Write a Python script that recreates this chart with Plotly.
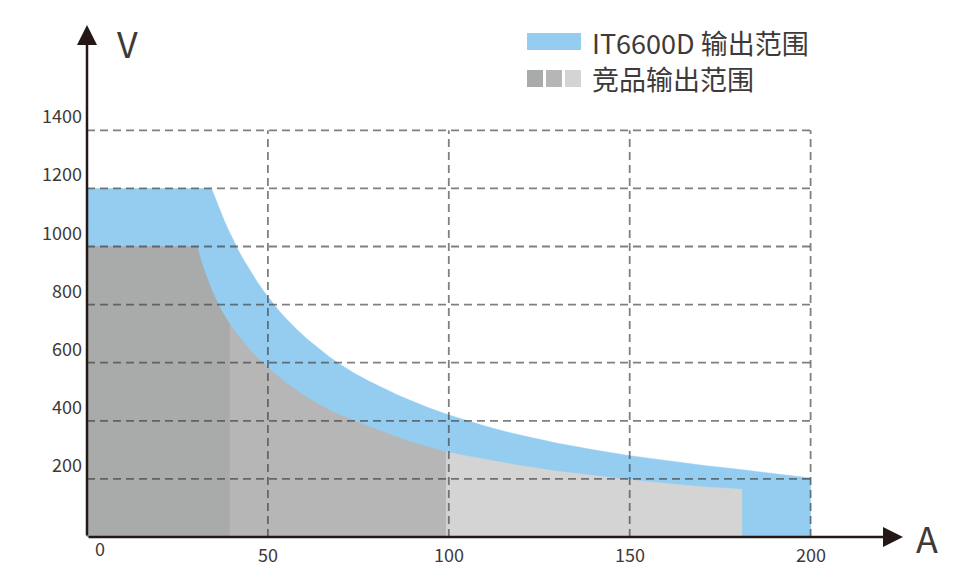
import plotly.graph_objects as go

W, H = 964, 585

# ---------------- data ----------------
x_ticks = [50, 100, 150, 200]
y_ticks = [200, 400, 600, 800, 1000, 1200, 1400]
origin_label = "0"
x_unit = "A"
y_unit = "V"

# IT6600D output envelope (current A, voltage V)
blue_I = [0, 34.4, 35, 36, 37, 38, 39, 40, 41, 42, 43, 44, 45, 47, 49, 51, 53, 55, 58, 61,
          64, 67, 70, 74, 78, 82, 86, 90, 95, 100, 105, 110, 115, 120, 130, 140, 150, 160,
          170, 180, 190, 200]
blue_V = [1200, 1200, 1180, 1147, 1116, 1087, 1059, 1032, 1007, 983, 960, 939, 918, 879, 843,
          810, 780, 752, 714, 680, 649, 620, 594, 563, 536, 511, 488, 467, 442, 420, 400, 382,
          365, 350, 323, 300, 280, 263, 247, 233, 218, 203]

# competitor output envelope (current A, voltage V)
comp_I = [0, 30.5, 31.3, 32.3, 33.3, 34.3, 35.3, 36.3, 37.3, 38.3, 39.5, 41, 43, 45, 48.3, 51,
          55, 59, 63, 68, 75.5, 82, 88, 94, 99.3, 105, 112, 120, 130, 140, 150, 160, 170, 181]
comp_V = [1000, 1000, 960, 922, 887, 855, 826, 800, 777, 756, 732, 706, 674, 645, 603, 572,
          531, 495, 464, 430, 392, 360, 333, 311, 293, 279, 262, 245, 226, 211, 197, 184, 173,
          164]
comp_bands = [0, 39.5, 99.3, 181]

legend_labels = ["IT6600D 输出范围", "竞品输出范围"]

# ---------------- styles ----------------
blue_color = "#94cdf0"
comp_colors = ["#a9aaaa", "#b6b6b6", "#d4d4d4"]
axis_color = "#231815"
text_color = "#3e3a39"
grid_color = "rgba(60,60,60,0.65)"
FONT = "Noto Sans CJK SC"

# page offset (browser body margin) and pixel mapping of the axes
OFF = 8
X0_PX, PX_PER_A = 87.0, 3.618
Y0_PX, PX_PER_V = 537.0, 0.2905
x_range = [-(X0_PX - OFF) / PX_PER_A, (W - (X0_PX - OFF)) / PX_PER_A]
y_range = [-(H - (Y0_PX - OFF)) / PX_PER_V, (Y0_PX - OFF) / PX_PER_V]


def a_of_px(px):
    return (px - X0_PX) / PX_PER_A


def v_of_py(py):
    return (Y0_PX - py) / PX_PER_V


def paper_x(px):
    return (px - OFF) / W


def paper_y(py):
    return 1 - (py - OFF) / H


fig = go.Figure()

# blue area
fig.add_trace(go.Scatter(
    x=[blue_I[0]] + blue_I + [blue_I[-1]],
    y=[0] + blue_V + [0],
    mode="lines", fill="toself", fillcolor=blue_color,
    line=dict(color=blue_color, width=0.5), hoverinfo="skip", showlegend=False))

# competitor bands
for k in range(len(comp_bands) - 1):
    lo, hi = comp_bands[k], comp_bands[k + 1]
    xs = [i for i in comp_I if lo <= i <= hi]
    ys = [v for i, v in zip(comp_I, comp_V) if lo <= i <= hi]
    fig.add_trace(go.Scatter(
        x=[lo] + xs + [hi], y=[0] + ys + [0],
        mode="lines", fill="toself", fillcolor=comp_colors[k],
        line=dict(color=comp_colors[k], width=0.5), hoverinfo="skip", showlegend=False))

# dashed grid drawn above the areas
gx, gy = [], []
for v in y_ticks:
    gx += [0, x_ticks[-1], None]
    gy += [v, v, None]
for a in x_ticks:
    gx += [a, a, None]
    gy += [0, y_ticks[-1], None]
fig.add_trace(go.Scatter(x=gx, y=gy, mode="lines",
                         line=dict(color=grid_color, width=1.8, dash="8px,5px"),
                         hoverinfo="skip", showlegend=False))

ann = []
# y tick labels
for v in y_ticks:
    ann.append(dict(x=0, y=v, xref="x", yref="y", text=str(v), showarrow=False,
                    xanchor="right", yanchor="middle", xshift=-3, yshift=15,
                    font=dict(family=FONT, size=18, color=text_color)))
# x tick labels
for a in x_ticks:
    ann.append(dict(x=a, y=0, xref="x", yref="y", text=str(a), showarrow=False,
                    xanchor="center", yanchor="middle", yshift=-17,
                    font=dict(family=FONT, size=18, color=text_color)))
ann.append(dict(x=0, y=0, xref="x", yref="y", text=origin_label, showarrow=False,
                xanchor="center", yanchor="middle", xshift=13, yshift=-11,
                font=dict(family=FONT, size=18, color=text_color)))

# axes with arrow heads
ann.append(dict(x=0, y=v_of_py(25), ax=0, ay=0, xref="x", yref="y", axref="x", ayref="y",
                text="", showarrow=True, arrowhead=2, arrowsize=1.6, arrowwidth=2.5,
                arrowcolor=axis_color, standoff=0))
ann.append(dict(x=a_of_px(903), y=0, ax=0, ay=0, xref="x", yref="y", axref="x", ayref="y",
                text="", showarrow=True, arrowhead=2, arrowsize=1.6, arrowwidth=2.5,
                arrowcolor=axis_color, standoff=0))

# axis units
ann.append(dict(x=paper_x(127), y=paper_y(42), xref="paper", yref="paper", text=y_unit,
                showarrow=False, xanchor="center", yanchor="middle",
                font=dict(family=FONT, size=36, color=text_color)))
ann.append(dict(x=paper_x(927), y=paper_y(537), xref="paper", yref="paper", text=x_unit,
                showarrow=False, xanchor="center", yanchor="middle",
                font=dict(family=FONT, size=36, color=text_color)))

# custom legend
shapes = [dict(type="rect", xref="paper", yref="paper",
               x0=paper_x(527), x1=paper_x(581), y0=paper_y(50), y1=paper_y(33),
               fillcolor=blue_color, line=dict(width=0))]
sq = [(527, 543), (546, 562), (565, 581)]
for (a0, a1), c in zip(sq, comp_colors):
    shapes.append(dict(type="rect", xref="paper", yref="paper",
                       x0=paper_x(a0), x1=paper_x(a1), y0=paper_y(87), y1=paper_y(70),
                       fillcolor=c, line=dict(width=0)))
for lbl, cy in zip(legend_labels, [42, 78]):
    ann.append(dict(x=paper_x(590), y=paper_y(cy), xref="paper", yref="paper", text=lbl,
                    showarrow=False, xanchor="left", yanchor="middle",
                    font=dict(family=FONT, size=27, color=text_color)))

fig.update_layout(
    width=W, height=H,
    margin=dict(l=0, r=0, t=0, b=0),
    paper_bgcolor="white", plot_bgcolor="white",
    xaxis=dict(range=x_range, visible=False, fixedrange=True),
    yaxis=dict(range=y_range, visible=False, fixedrange=True),
    annotations=ann, shapes=shapes,
    hovermode=False, showlegend=False,
)

fig.write_html("out.html", config={"displayModeBar": False})
